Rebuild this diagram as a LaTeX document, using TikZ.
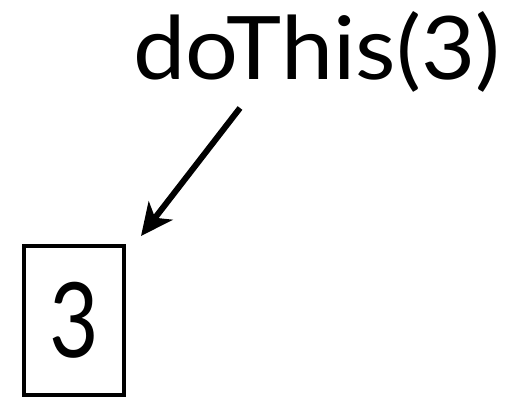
\documentclass[tikz,border=0pt]{standalone}
\usepackage{fontspec}
\setmainfont{Lato}
\usetikzlibrary{arrows.meta}
\begin{document}
\begin{tikzpicture}[x=1pt,y=1pt,
  lbl/.style={inner sep=0pt, font=\fontsize{96}{100}\selectfont},
  valbox/.style={draw, line width=4pt, minimum width=100pt, minimum height=149pt, inner sep=0pt, font=\fontsize{104}{110}\selectfont},
  ptr/.style={line width=6pt, -{Stealth[length=32pt,width=30pt,inset=9pt]}}]
\useasboundingbox (0,0) rectangle (509,398);
\node[lbl, anchor=base west] (call) at (133,318) {\resizebox{367pt}{68pt}{doThis(3)}};
\node[valbox] (box) at (74,77.5) {\scalebox{0.82}[1]{3}};
\coordinate (start) at ([shift={(107,-28)}]call.base west);
\draw[ptr] (start) -- ([shift={(15,8)}]box.north east);
\end{tikzpicture}
\end{document}
